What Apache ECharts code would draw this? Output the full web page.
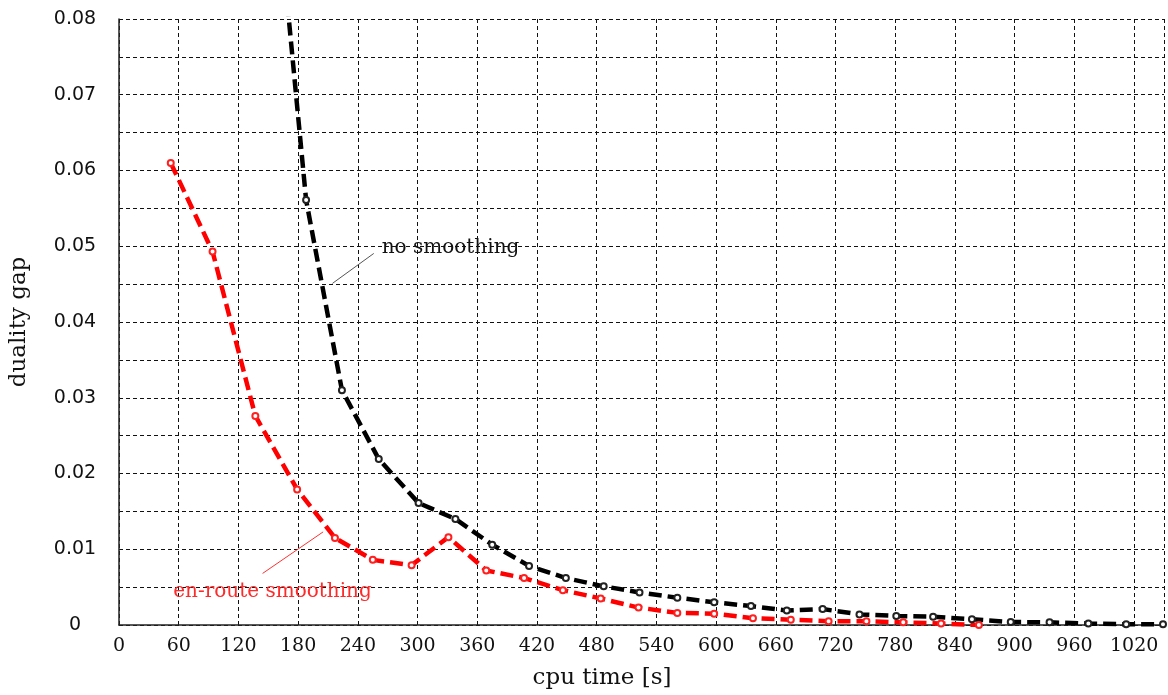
<!DOCTYPE html>
<html>
<head>
<meta charset="utf-8">
<script src="https://cdn.jsdelivr.net/npm/echarts@6/dist/echarts.min.js"></script>
<style>html,body{margin:0;padding:0;background:#fff}#c{width:1168px;height:695px}</style>
</head>
<body>
<div id="c"></div>
<script>
// cpu time [s] and duality gap
const xNoSmoothing = [151, 188, 224, 261, 301, 338, 375, 412, 449, 487, 523, 561, 598, 635, 671, 707, 744, 781, 818, 857, 896, 935, 974, 1012, 1049];
const yNoSmoothing = [0.107, 0.0561, 0.0310, 0.0219, 0.0161, 0.0140, 0.0106, 0.0078, 0.0062, 0.0051, 0.0043, 0.0036, 0.0030, 0.0025, 0.0019, 0.0021, 0.0014, 0.0012, 0.0011, 0.00075, 0.0004, 0.00035, 0.0002, 0.0001, 0.0001];
const xEnRoute = [52, 94, 137, 179, 217, 255, 294, 331, 369, 407, 446, 484, 522, 561, 598, 637, 675, 713, 751, 788, 826, 864];
const yEnRoute = [0.0610, 0.0493, 0.0276, 0.0179, 0.0115, 0.0086, 0.0079, 0.0116, 0.0072, 0.0062, 0.0046, 0.0035, 0.0023, 0.0016, 0.0015, 0.0009, 0.0007, 0.0005, 0.0005, 0.00035, 0.0002, 0.0];
const seriesNames = ['no smoothing', 'en-route smoothing'];
const xAxisName = 'cpu time [s]';
const yAxisName = 'duality gap';
// annotation anchors in data coordinates: [lineStart, lineEnd, textPos]
const annNoSmoothing = [[214.5, 0.0451], [256, 0.04905], [264, 0.0498]];
const annEnRoute = [[144.3, 0.00681], [205.1, 0.01229], [154.2, 0.00439]];

const zip = (xs, ys) => xs.map((x, i) => [x, ys[i]]);
const chart = echarts.init(document.getElementById('c'), null, {renderer: 'canvas'});
const serif = 'DejaVu Serif';
const gridLine = {show: true, lineStyle: {color: '#111', width: 1, type: [4, 3]}};

chart.setOption({
  animation: false,
  backgroundColor: '#fff',
  grid: {left: 119, right: 4, top: 19, bottom: 70},
  xAxis: {
    type: 'value', min: 0, max: 1050, interval: 60,
    name: xAxisName, nameLocation: 'middle', nameGap: 42,
    nameTextStyle: {fontFamily: serif, fontSize: 23, color: '#111', padding: [0, 79, 0, 0]},
    axisLine: {show: true, onZero: false, lineStyle: {color: '#222', width: 1.5}},
    axisTick: {show: false},
    axisLabel: {fontFamily: serif, fontSize: 19, color: '#111', margin: 12, showMaxLabel: false,
      formatter: v => String(Math.round(v))},
    splitLine: gridLine
  },
  yAxis: {
    type: 'value', min: 0, max: 0.08, interval: 0.005,
    name: yAxisName, nameLocation: 'middle', nameGap: 88, nameRotate: 90,
    nameTextStyle: {fontFamily: serif, fontSize: 23, color: '#111'},
    axisLine: {show: true, lineStyle: {color: '#222', width: 1.5}},
    axisTick: {show: false},
    axisLabel: {
      fontFamily: 'DejaVu Sans', fontSize: 19, color: '#111', margin: 44, align: 'center',
      formatter: v => {
        const k = Math.round(v * 1000);
        if (k % 10 !== 0) return '';
        return k === 0 ? '0' : (k / 1000).toFixed(2);
      }
    },
    splitLine: gridLine
  },
  series: [
    {
      name: seriesNames[0], type: 'line', data: zip(xNoSmoothing, yNoSmoothing),
      symbol: 'emptyCircle', symbolSize: 6, clip: true,
      lineStyle: {color: '#000', width: 4.5, type: [13, 6]},
      itemStyle: {color: '#222', borderWidth: 1}
    },
    {
      name: seriesNames[1], type: 'line', data: zip(xEnRoute, yEnRoute),
      symbol: 'emptyCircle', symbolSize: 6, clip: true,
      lineStyle: {color: '#ff0000', width: 4.5, type: [13, 6]},
      itemStyle: {color: '#ff2020', borderWidth: 1}
    }
  ]
});

function px(p) { return chart.convertToPixel({gridIndex: 0}, p); }
function ann(a, text, color, lineColor, align) {
  const s = px(a[0]), e = px(a[1]), t = px(a[2]);
  return [
    {type: 'line', shape: {x1: s[0], y1: s[1], x2: e[0], y2: e[1]}, style: {stroke: lineColor, lineWidth: 1}, z: 100},
    {type: 'text', x: t[0], y: t[1], style: {text: text, fill: color, font: '20px "DejaVu Serif"', textAlign: align, textVerticalAlign: 'middle'}, z: 100}
  ];
}
chart.setOption({
  graphic: [].concat(
    ann(annNoSmoothing, seriesNames[0], '#111', '#555', 'left'),
    ann(annEnRoute, seriesNames[1], '#ff2a2a', '#ff3030', 'center')
  )
});
</script>
</body>
</html>
